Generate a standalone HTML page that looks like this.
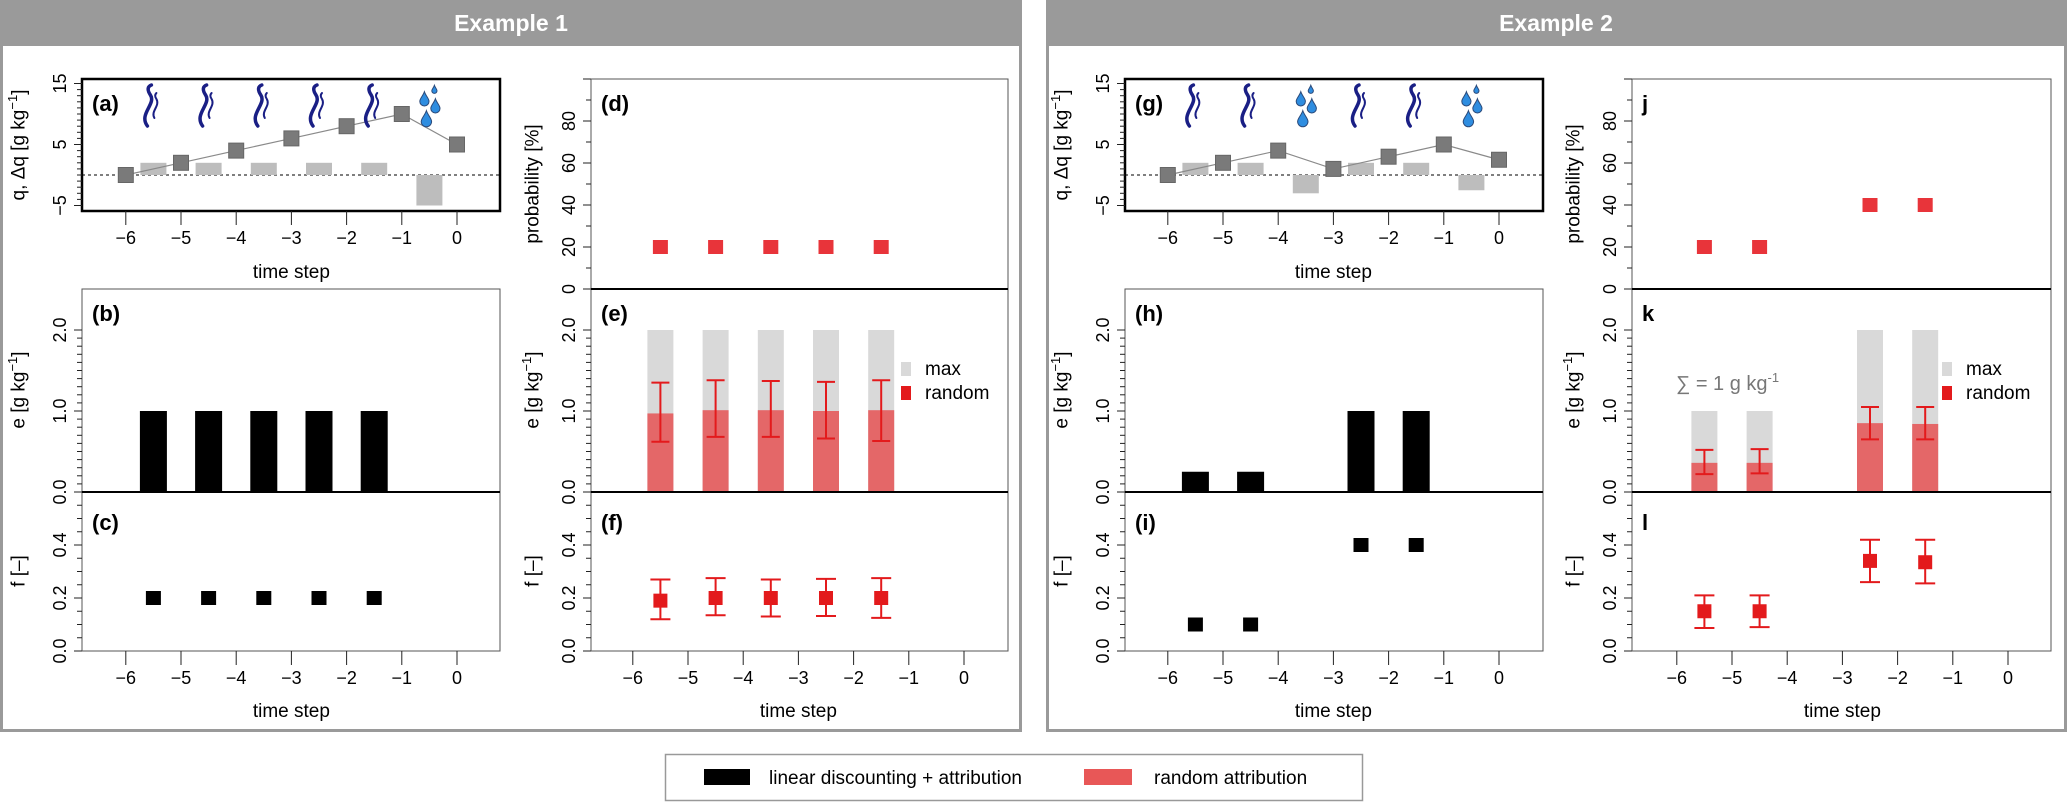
<!DOCTYPE html>
<html><head><meta charset="utf-8">
<style>
html,body{margin:0;padding:0;background:#fff;}
svg{display:block;font-family:"Liberation Sans",sans-serif;}
</style></head>
<body>
<svg id="fig" width="2067" height="803" viewBox="0 0 2067 803" xmlns="http://www.w3.org/2000/svg">
  <rect x="0" y="0" width="2067" height="803" fill="#fff"/>
  <g>
    <rect x="1.5" y="1.5" width="1019" height="729" fill="#fff" stroke="#9a9a9a" stroke-width="3"/>
    <rect x="0" y="0" width="1022" height="46" fill="#9a9a9a"/>
    <text x="511" y="31" text-anchor="middle" font-size="23" font-weight="bold" fill="#fff">Example 1</text>
  </g>
  <g>
    <rect x="1047.5" y="1.5" width="1018" height="729" fill="#fff" stroke="#9a9a9a" stroke-width="3"/>
    <rect x="1046" y="0" width="1021" height="46" fill="#9a9a9a"/>
    <text x="1556" y="31" text-anchor="middle" font-size="23" font-weight="bold" fill="#fff">Example 2</text>
  </g>
  <g>
    <rect x="665.5" y="754.5" width="697" height="46" fill="#fff" stroke="#999" stroke-width="1.5"/>
    <rect x="704" y="769" width="46" height="16" fill="#000"/>
    <text x="769" y="784" font-size="19" fill="#000">linear discounting + attribution</text>
    <rect x="1084" y="769" width="48" height="16" fill="#e85757"/>
    <text x="1154" y="784" font-size="19" fill="#000">random attribution</text>
  </g>
  <g id="plots"></g>
</svg>
<script>
// ---------- data ----------
const steps = [-6, -5, -4, -3, -2, -1, 0];
const ex1Q = [0, 2, 4, 6, 8, 10, 5];
const ex2Q = [0, 2, 4, 1, 3, 5, 2.5];
const ex1Icons = ['vapor', 'vapor', 'vapor', 'vapor', 'vapor', 'rain'];
const ex2Icons = ['vapor', 'vapor', 'rain', 'vapor', 'vapor', 'rain'];

const ex1Steps = [-5.5, -4.5, -3.5, -2.5, -1.5];
const ex1Prob = [20, 20, 20, 20, 20];
const ex1E = [1, 1, 1, 1, 1];
const ex1F = [0.2, 0.2, 0.2, 0.2, 0.2];
const ex1MaxE = [2, 2, 2, 2, 2];
const ex1RandE = [0.97, 1.01, 1.01, 1.0, 1.01];
const ex1RandEHi = [1.35, 1.38, 1.37, 1.36, 1.38];
const ex1RandELo = [0.62, 0.68, 0.68, 0.66, 0.63];
const ex1RandF = [0.19, 0.2, 0.2, 0.2, 0.2];
const ex1RandFHi = [0.27, 0.275, 0.27, 0.272, 0.275];
const ex1RandFLo = [0.12, 0.135, 0.13, 0.132, 0.125];

const ex2Steps = [-5.5, -4.5, -2.5, -1.5];
const ex2Prob = [20, 20, 40, 40];
const ex2E = [0.25, 0.25, 1, 1];
const ex2F = [0.1, 0.1, 0.4, 0.4];
const ex2MaxE = [1, 1, 2, 2];
const ex2RandE = [0.36, 0.36, 0.85, 0.84];
const ex2RandEHi = [0.52, 0.53, 1.05, 1.05];
const ex2RandELo = [0.22, 0.23, 0.65, 0.65];
const ex2RandF = [0.15, 0.15, 0.34, 0.335];
const ex2RandFHi = [0.21, 0.21, 0.42, 0.42];
const ex2RandFLo = [0.087, 0.09, 0.26, 0.255];

const qTicks = [15, 5, -5];
const probTicks = [0, 20, 40, 60, 80];
const eTicks = [0, 1, 2];
const eTickLabels = ['0.0', '1.0', '2.0'];
const fTicks = [0, 0.2, 0.4];
const fTickLabels = ['0.0', '0.2', '0.4'];
const xTickLabels = ['\u22126', '\u22125', '\u22124', '\u22123', '\u22122', '\u22121', '0'];

// ---------- helpers ----------
const NS = 'http://www.w3.org/2000/svg';
const root = document.getElementById('plots');
function mk(tag, attrs, parent) {
  const e = document.createElementNS(NS, tag);
  for (const k in attrs) e.setAttribute(k, attrs[k]);
  (parent || root).appendChild(e);
  return e;
}
function lin(d0, d1, p0, p1) { return v => p0 + (v - d0) * (p1 - p0) / (d1 - d0); }

const PPU = 55.2;
const yA = lin(0, 15, 175, 83.5);
const yD = lin(0, 100, 289, 79);
const yE = lin(0, 2, 492, 330);
const yF = lin(0, 0.4, 651, 545);

function yTicks(left, scale, from, to, step, majors, labels, prefix) {
  const g = mk('g', {});
  
  
  const n = Math.round((to - from) / step);
  for (let i = 0; i <= n; i++) {
    const v = from + i * step;
    const y = scale(v);
    const isMaj = majors.some(m => Math.abs(m - v) < 1e-6);
    mk('line', {x1: left - (isMaj ? 8 : 5), x2: left, y1: y, y2: y, stroke: '#222', 'stroke-width': 1}, g);
  }
  majors.forEach((m, i) => {
    const y = scale(m);
    const t = mk('text', {x: left - 22, y: y, 'font-size': 18, 'text-anchor': 'middle', 'dominant-baseline': 'central', transform: `rotate(-90 ${left - 22} ${y})`}, g);
    t.textContent = labels[i];
    
    
  });
}
function yLabel(x, y, html, prefix) {
  const t = mk('text', {x: x, y: y, 'font-size': 19, 'text-anchor': 'middle', 'dominant-baseline': 'central', transform: `rotate(-90 ${x} ${y})`});
  t.innerHTML = html;
  
  
}
function xAxis(xs, yBottom, labY, titleY, prefix) {
  const g = mk('g', {});
  
  
  steps.forEach((s, i) => {
    const x = xs(s);
    mk('line', {x1: x, x2: x, y1: yBottom, y2: yBottom + 14, stroke: '#222', 'stroke-width': 1}, g);
    const t = mk('text', {x: x, y: labY + 6, 'font-size': 18, 'text-anchor': 'middle'}, g);
    t.textContent = xTickLabels[i];
    
    
  });
  const midX = (xs(-6) + xs(0)) / 2;
  const t = mk('text', {x: midX, y: titleY + 6, 'font-size': 19, 'text-anchor': 'middle'}, g);
  t.textContent = 'time step';
  
  
}
function panelLabel(x, y, txt, prefix) {
  const t = mk('text', {x: x, y: y + 8, 'font-size': 22, 'font-weight': 'bold'});
  t.textContent = txt;
  
  
}
function vapor(cx, parent) {
  mk('path', {d: `M${cx-6},126 C${cx-15},114 ${cx+3},104 ${cx-3},95 C${cx-7},89 ${cx-5},86 ${cx-2},85`, fill: 'none', stroke: '#1a1f85', 'stroke-width': 3.5, 'stroke-linecap': 'round'}, parent);
  mk('path', {d: `M${cx+1},118 C${cx-3},111 ${cx+7},106 ${cx+3},99 C${cx+1},96 ${cx+2},94 ${cx+3},93`, fill: 'none', stroke: '#1a1f85', 'stroke-width': 2, 'stroke-linecap': 'round'}, parent);
}
function drop(x, y, s, parent) {
  mk('path', {d: `M${x},${y-1.8*s} C${x+0.3*s},${y-0.9*s} ${x+s},${y-0.3*s} ${x+s},${y+0.3*s} A${s},${s} 0 0 1 ${x-s},${y+0.3*s} C${x-s},${y-0.3*s} ${x-0.3*s},${y-0.9*s} ${x},${y-1.8*s} Z`, fill: '#2e8de0', stroke: '#2b4a7a', 'stroke-width': 1}, parent);
}
function rain(cx, parent) {
  drop(cx + 5, 90, 2.6, parent);
  drop(cx - 5, 100, 4.6, parent);
  drop(cx + 6, 107, 4.6, parent);
  drop(cx - 3, 120, 5.2, parent);
}

function drawExample(cfg) {
  const p = cfg.id;
  const xsL = v => cfg.L.zero + v * PPU;
  const xsR = v => cfg.R.zero + v * PPU;
  const Lw = cfg.L.right - cfg.L.left, Rw = cfg.R.right - cfg.R.left;

  const gq = mk('g', {});
  
  
  mk('line', {x1: cfg.L.left, x2: cfg.L.right, y1: yA(0), y2: yA(0), stroke: '#333', 'stroke-width': 1.2, 'stroke-dasharray': '3,3'}, gq);
  for (let i = 1; i < cfg.q.length; i++) {
    const dq = cfg.q[i] - cfg.q[i - 1];
    const xm = xsL((steps[i] + steps[i - 1]) / 2);
    const r = mk('rect', {x: xm - 13, y: Math.min(yA(0), yA(dq)), width: 26, height: Math.abs(yA(dq) - yA(0)), fill: '#bdbdbd'}, gq);
    
    
  }
  const pts = steps.map((s, i) => `${xsL(s)},${yA(cfg.q[i])}`).join(' ');
  const pl = mk('polyline', {points: pts, fill: 'none', stroke: '#8a8a8a', 'stroke-width': 1.2}, gq);
  
  
  steps.forEach((s, i) => {
    const r = mk('rect', {x: xsL(s) - 7.5, y: yA(cfg.q[i]) - 7.5, width: 15, height: 15, fill: '#7a7a7a', stroke: '#666', 'stroke-width': 1}, gq);
    
    
  });
  cfg.icons.forEach((ic, i) => {
    const gi = mk('g', {}, gq);
    
    
    const cx = xsL(steps[i] + 0.5);
    if (ic === 'rain') rain(cx, gi); else vapor(cx, gi);
  });
  mk('rect', {x: cfg.L.left, y: 79, width: Lw, height: 132, fill: 'none', stroke: '#000', 'stroke-width': 2.5}, gq);
  yTicks(cfg.L.left, yA, -5, 15, 1, qTicks, ['15', '5', '\u22125'], p + '-q');
  yLabel(cfg.L.left - 63, 145, 'q,  \u0394q [g kg<tspan font-size="13" dy="-7">\u22121</tspan><tspan dy="7">]</tspan>', p + '-q');
  xAxis(xsL, 211, 238, 272, p + '-q');
  panelLabel(cfg.L.left + 10, 103, cfg.labels[0], p + '-q');

  const gp = mk('g', {});
  
  
  mk('rect', {x: cfg.R.left, y: 79, width: Rw, height: 210, fill: 'none', stroke: '#555', 'stroke-width': 1}, gp);
  cfg.st.forEach((s, i) => {
    const r = mk('rect', {x: xsR(s) - 7.5, y: yD(cfg.prob[i]) - 7, width: 15, height: 14, fill: '#e8343a'}, gp);
    
    
  });
  yTicks(cfg.R.left, yD, 0, 100, 10, probTicks, ['0', '20', '40', '60', '80'], p + '-prob');
  mk('line', {x1: cfg.R.left - 8, x2: cfg.R.left, y1: yD(100), y2: yD(100), stroke: '#222'}, gp);
  yLabel(cfg.R.left - 58, 184, 'probability [%]', p + '-prob');
  panelLabel(cfg.R.left + 10, 103, cfg.labels[3], p + '-prob');

  const ge = mk('g', {});
  
  
  cfg.st.forEach((s, i) => {
    const r = mk('rect', {x: xsL(s) - 13.5, y: yE(cfg.e[i]), width: 27, height: yE(0) - yE(cfg.e[i]), fill: '#000'}, ge);
    
    
  });
  mk('rect', {x: cfg.L.left, y: 289, width: Lw, height: 203, fill: 'none', stroke: '#555', 'stroke-width': 1}, ge);
  yTicks(cfg.L.left, yE, 0, 2, 0.1, eTicks, eTickLabels, p + '-e-linear');
  yLabel(cfg.L.left - 63, 390, 'e [g kg<tspan font-size="13" dy="-7">\u22121</tspan><tspan dy="7">]</tspan>', p + '-e-linear');
  panelLabel(cfg.L.left + 10, 313, cfg.labels[1], p + '-e-linear');

  const gr = mk('g', {});
  
  
  cfg.st.forEach((s, i) => {
    const x = xsR(s);
    const m = mk('rect', {x: x - 13, y: yE(cfg.maxE[i]), width: 26, height: yE(0) - yE(cfg.maxE[i]), fill: '#d9d9d9'}, gr);
    
    
    const r = mk('rect', {x: x - 13, y: yE(cfg.randE[i]), width: 26, height: yE(0) - yE(cfg.randE[i]), fill: '#e46768'}, gr);
    
    
    const eb = mk('path', {d: `M${x},${yE(cfg.randEHi[i])} V${yE(cfg.randELo[i])} M${x-9},${yE(cfg.randEHi[i])} H${x+9} M${x-9},${yE(cfg.randELo[i])} H${x+9}`, stroke: '#e31a1c', 'stroke-width': 2, fill: 'none'}, gr);
    
    
  });
  mk('rect', {x: cfg.R.left, y: 289, width: Rw, height: 203, fill: 'none', stroke: '#555', 'stroke-width': 1}, gr);
  mk('line', {x1: cfg.R.left, x2: cfg.R.right, y1: 289, y2: 289, stroke: '#000', 'stroke-width': 2}, gr);
  yTicks(cfg.R.left, yE, 0, 2, 0.1, eTicks, eTickLabels, p + '-e-random');
  yLabel(cfg.R.left - 58, 390, 'e [g kg<tspan font-size="13" dy="-7">\u22121</tspan><tspan dy="7">]</tspan>', p + '-e-random');
  panelLabel(cfg.R.left + 10, 313, cfg.labels[4], p + '-e-random');
  const lg = mk('g', {}, gr);
  
  
  mk('rect', {x: cfg.R.left + 310, y: 362, width: 10, height: 14, fill: '#d9d9d9'}, lg);
  const tm = mk('text', {x: cfg.R.left + 334, y: 375, 'font-size': 19}, lg);
  tm.textContent = 'max';
  mk('rect', {x: cfg.R.left + 310, y: 386, width: 10, height: 14, fill: '#e31a1c'}, lg);
  const tr = mk('text', {x: cfg.R.left + 334, y: 399, 'font-size': 19}, lg);
  tr.textContent = 'random';
  if (cfg.sumNote) {
    const sn = mk('text', {x: cfg.R.left + 44, y: 390, 'font-size': 20, fill: '#777'}, gr);
    sn.innerHTML = '\u2211 = 1 g kg<tspan font-size="13" dy="-8">-1</tspan>';
    
    
  }

  const gf = mk('g', {});
  
  
  cfg.st.forEach((s, i) => {
    const r = mk('rect', {x: xsL(s) - 7.5, y: yF(cfg.f[i]) - 7, width: 15, height: 14, fill: '#000'}, gf);
    
    
  });
  mk('rect', {x: cfg.L.left, y: 492, width: Lw, height: 159, fill: 'none', stroke: '#555', 'stroke-width': 1}, gf);
  mk('line', {x1: cfg.L.left, x2: cfg.L.right, y1: 492, y2: 492, stroke: '#000', 'stroke-width': 2}, gf);
  yTicks(cfg.L.left, yF, 0, 0.6, 0.05, fTicks, fTickLabels, p + '-f-linear');
  yLabel(cfg.L.left - 63, 571, 'f [\u2013]', p + '-f-linear');
  xAxis(xsL, 651, 678, 711, p + '-f-linear');
  panelLabel(cfg.L.left + 10, 522, cfg.labels[2], p + '-f-linear');

  const gfr = mk('g', {});
  
  
  cfg.st.forEach((s, i) => {
    const x = xsR(s);
    const eb = mk('path', {d: `M${x},${yF(cfg.randFHi[i])} V${yF(cfg.randFLo[i])} M${x-10},${yF(cfg.randFHi[i])} H${x+10} M${x-10},${yF(cfg.randFLo[i])} H${x+10}`, stroke: '#e31a1c', 'stroke-width': 2, fill: 'none'}, gfr);
    
    
    const r = mk('rect', {x: x - 7, y: yF(cfg.randF[i]) - 7, width: 14, height: 14, fill: '#e31a1c'}, gfr);
    
    
  });
  mk('rect', {x: cfg.R.left, y: 492, width: Rw, height: 159, fill: 'none', stroke: '#555', 'stroke-width': 1}, gfr);
  mk('line', {x1: cfg.R.left, x2: cfg.R.right, y1: 492, y2: 492, stroke: '#000', 'stroke-width': 2}, gfr);
  yTicks(cfg.R.left, yF, 0, 0.6, 0.05, fTicks, fTickLabels, p + '-f-random');
  yLabel(cfg.R.left - 58, 571, 'f [\u2013]', p + '-f-random');
  xAxis(xsR, 651, 678, 711, p + '-f-random');
  panelLabel(cfg.R.left + 10, 522, cfg.labels[5], p + '-f-random');
}

drawExample({id: 'ex1', L: {left: 82, right: 500, zero: 457}, R: {left: 591, right: 1008, zero: 964},
  q: ex1Q, icons: ex1Icons, st: ex1Steps, prob: ex1Prob, e: ex1E, f: ex1F, maxE: ex1MaxE,
  randE: ex1RandE, randEHi: ex1RandEHi, randELo: ex1RandELo, randF: ex1RandF, randFHi: ex1RandFHi, randFLo: ex1RandFLo,
  labels: ['(a)', '(b)', '(c)', '(d)', '(e)', '(f)'], sumNote: false});
drawExample({id: 'ex2', L: {left: 1125, right: 1543, zero: 1499}, R: {left: 1632, right: 2051, zero: 2008},
  q: ex2Q, icons: ex2Icons, st: ex2Steps, prob: ex2Prob, e: ex2E, f: ex2F, maxE: ex2MaxE,
  randE: ex2RandE, randEHi: ex2RandEHi, randELo: ex2RandELo, randF: ex2RandF, randFHi: ex2RandFHi, randFLo: ex2RandFLo,
  labels: ['(g)', '(h)', '(i)', 'j', 'k', 'l'], sumNote: true});
</script>
</body></html>
